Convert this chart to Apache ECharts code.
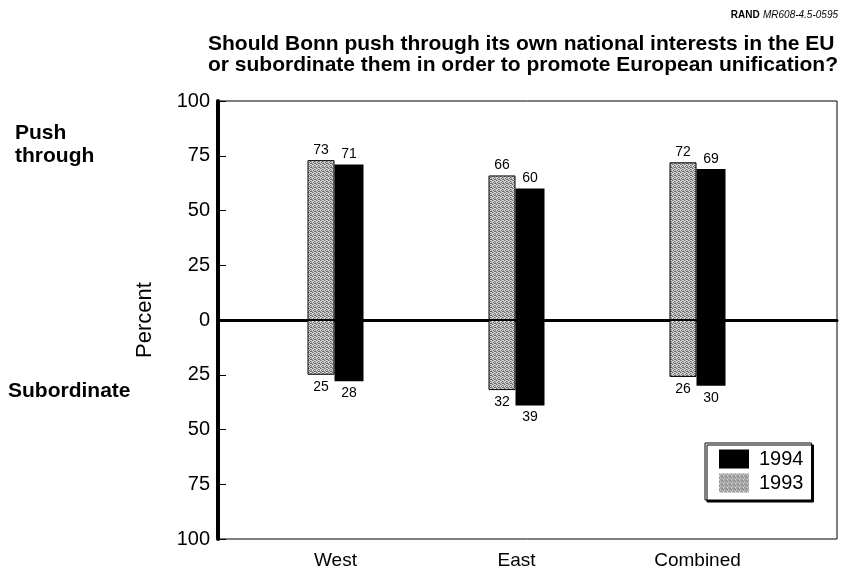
<!DOCTYPE html>
<html>
<head>
<meta charset="utf-8">
<script src="https://cdn.jsdelivr.net/npm/echarts@6/dist/echarts.min.js"></script>
<style>
html,body{margin:0;padding:0;background:#fff;}
#chart{width:843px;height:575px;}
</style>
</head>
<body>
<div id="chart"></div>
<script>
const categories = ['West', 'East', 'Combined'];
const push1993 = [73, 66, 72];
const push1994 = [71, 60, 69];
const sub1993 = [25, 32, 26];
const sub1994 = [28, 39, 30];
const yMin = -100, yMax = 100, yStep = 25;

const FONT = '"Liberation Sans", Arial, sans-serif';

// stipple pattern for 1993 bars
function stipple() {
  const c = document.createElement('canvas');
  c.width = 4; c.height = 4;
  const g = c.getContext('2d');
  g.fillStyle = '#d8d8d8'; g.fillRect(0, 0, 4, 4);
  g.fillStyle = '#6a6a6a';
  [[0,0],[2,1],[1,2],[3,3],[2,3]].forEach(p => g.fillRect(p[0], p[1], 1, 1));
  g.fillStyle = '#a0a0a0';
  [[1,0],[3,1],[0,3],[3,2]].forEach(p => g.fillRect(p[0], p[1], 1, 1));
  return { image: c, repeat: 'repeat' };
}
const pat = stipple();

const chart = echarts.init(document.getElementById('chart'), null, { renderer: 'canvas' });

const absFmt = p => Math.abs(p.value);
const lblStyle = { fontFamily: FONT, fontSize: 14, color: '#000' };

const option = {
  animation: false,
  backgroundColor: '#fff',
  textStyle: { fontFamily: FONT },
  legend: {
    data: ['1994', '1993'],
    orient: 'vertical',
    left: 705, top: 443,
    icon: 'rect',
    itemWidth: 30, itemHeight: 19, itemGap: 4,
    padding: [6, 8, 7, 14],
    borderColor: '#000', borderWidth: 1,
    backgroundColor: '#fff',
    shadowColor: '#000', shadowOffsetX: 2, shadowOffsetY: 2, shadowBlur: 0,
    textStyle: { fontFamily: FONT, fontSize: 20, color: '#000', padding: [0, 0, 0, 5] },
    itemStyle: { borderWidth: 0 }
  },
  grid: [
    { left: 218, right: 6, top: 101, bottom: 36, show: true, borderColor: '#000', borderWidth: 1, containLabel: false },
    { left: 245, width: 543, top: 101, bottom: 36, containLabel: false }
  ],
  xAxis: [
    {
      gridIndex: 0, type: 'value', min: 0, max: 1,
      axisLine: { show: true, onZero: true, lineStyle: { color: '#000', width: 3 } },
      axisTick: { show: false }, axisLabel: { show: false }, splitLine: { show: false }
    },
    {
      gridIndex: 1, type: 'category', data: categories, position: 'bottom',
      axisLine: { show: false, onZero: false }, axisTick: { show: false },
      axisLabel: { fontFamily: FONT, fontSize: 19, color: '#000', margin: 12 }
    }
  ],
  yAxis: [
    {
      gridIndex: 0, type: 'value', min: yMin, max: yMax, interval: yStep,
      name: 'Percent', nameLocation: 'middle', nameGap: 62, nameRotate: 90,
      nameTextStyle: { fontFamily: FONT, fontSize: 22, color: '#000' },
      axisLine: { show: true, lineStyle: { color: '#000', width: 4 } },
      axisTick: { show: true, inside: true, length: 8, lineStyle: { color: '#000', width: 1 } },
      axisLabel: { fontFamily: FONT, fontSize: 20, color: '#000', margin: 8, formatter: v => Math.abs(v) },
      splitLine: { show: false }
    },
    {
      gridIndex: 1, type: 'value', min: yMin, max: yMax, interval: yStep, show: false
    }
  ],
  graphic: [
    {
      type: 'text', right: 5, top: 9,
      style: {
        text: '{b|RAND} {i|MR608-4.5-0595}',
        rich: {
          b: { fontFamily: FONT, fontSize: 10, fontWeight: 'bold', fill: '#000' },
          i: { fontFamily: FONT, fontSize: 10, fontStyle: 'italic', fill: '#000' }
        }
      }
    },
    {
      type: 'text', right: 5, top: 34,
      style: {
        text: 'Should Bonn push through its own national interests in the EU\nor subordinate them in order to promote European unification?',
        font: 'bold 21px ' + FONT, fill: '#000', lineHeight: 21, align: 'right'
      }
    },
    { type: 'text', left: 15, top: 122, style: { text: 'Push\nthrough', font: 'bold 21px ' + FONT, fill: '#000', lineHeight: 23 } },
    { type: 'text', left: 8, top: 381, style: { text: 'Subordinate', font: 'bold 21px ' + FONT, fill: '#000' } }
  ],
  series: [
    {
      name: '1993', type: 'bar', xAxisIndex: 1, yAxisIndex: 1, stack: 'y93',
      data: push1993, barWidth: 27, z: 3,
      itemStyle: { color: pat, borderColor: '#000', borderWidth: 1 },
      label: { show: true, position: 'top', distance: 3, formatter: absFmt, ...lblStyle }
    },
    {
      name: '1993', type: 'bar', xAxisIndex: 1, yAxisIndex: 1, stack: 'y93',
      data: sub1993.map(v => -v), barWidth: 27, z: 3,
      itemStyle: { color: pat, borderColor: '#000', borderWidth: 1 },
      label: { show: true, position: 'bottom', distance: 5, formatter: absFmt, ...lblStyle }
    },
    {
      name: '1994', type: 'bar', xAxisIndex: 1, yAxisIndex: 1, stack: 'y94',
      data: push1994, barWidth: 29, barGap: 0, z: 2,
      itemStyle: { color: '#000' },
      label: { show: true, position: 'top', distance: 3, formatter: absFmt, ...lblStyle }
    },
    {
      name: '1994', type: 'bar', xAxisIndex: 1, yAxisIndex: 1, stack: 'y94',
      data: sub1994.map(v => -v), barWidth: 29, barGap: 0, z: 2,
      itemStyle: { color: '#000' },
      label: { show: true, position: 'bottom', distance: 5, formatter: absFmt, ...lblStyle }
    }
  ]
};
chart.setOption(option);
</script>
</body>
</html>
